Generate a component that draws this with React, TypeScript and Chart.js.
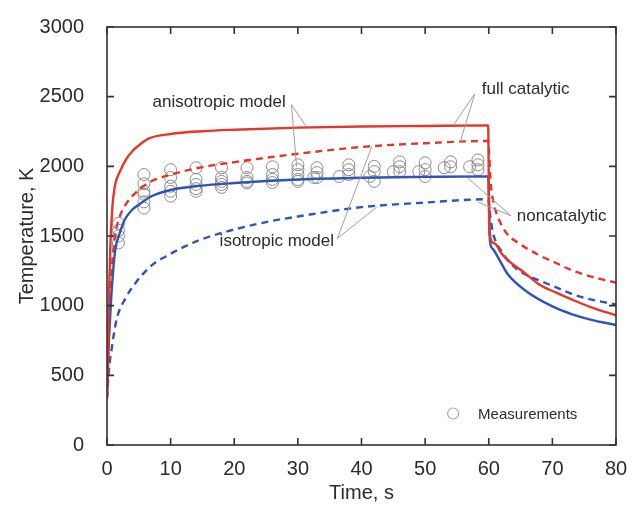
import React, { useEffect, useRef } from 'react';
import { Chart, registerables } from 'chart.js';

Chart.register(...registerables);

// ---- Data (time in s, temperature in K) ----
const anisoFullTime = [0, 0.25, 0.5, 0.8, 1.2, 2, 3, 4, 5, 6.6, 10, 15, 20, 30, 40, 50, 59.9, 60.1, 60.9, 62, 63, 65.5, 68, 70.5, 73, 76, 80];
const anisoFullTemp = [350, 950, 1400, 1680, 1850, 1960, 2050, 2110, 2150, 2200, 2232, 2252, 2263, 2278, 2286, 2290, 2294, 1520, 1447, 1375, 1327, 1240, 1150, 1095, 1045, 990, 931];

const anisoNonTime = [0, 0.25, 0.5, 0.75, 1.3, 2, 2.7, 4, 5, 7, 10, 14.5, 20, 30, 40, 50, 59.9, 60.2, 60.6, 61.3, 63, 66, 70, 73, 76, 80];
const anisoNonTemp = [350, 700, 920, 1120, 1400, 1520, 1610, 1690, 1725, 1785, 1830, 1860, 1880, 1905, 1918, 1924, 1928, 1460, 1410, 1360, 1225, 1100, 995, 940, 900, 861];

const isoFullTime = [0, 0.3, 0.6, 1, 1.5, 2, 3, 4.5, 6.6, 10, 14.5, 20, 30, 40, 50, 59.9, 60.3, 60.8, 61.5, 62.8, 65, 68, 70.4, 73, 76, 80];
const isoFullTemp = [350, 800, 1150, 1400, 1560, 1640, 1730, 1810, 1884, 1940, 1990, 2030, 2090, 2139, 2166, 2182, 1880, 1730, 1630, 1520, 1440, 1360, 1310, 1255, 1210, 1165];

const isoNonTime = [0, 0.3, 0.7, 1.5, 3, 4.6, 5.5, 7.3, 9.3, 12, 14.5, 17.6, 25, 30, 40, 50, 59.9, 60.3, 60.8, 62, 63.5, 65.7, 68, 70.4, 73, 76, 80];
const isoNonTemp = [330, 540, 680, 900, 1060, 1170, 1220, 1300, 1355, 1420, 1470, 1517, 1600, 1640, 1707, 1740, 1764, 1620, 1500, 1390, 1300, 1225, 1180, 1135, 1085, 1045, 1009];

const measTime = [
  1.8, 1.8, 1.8, 1.8,
  5.8, 5.8, 5.8, 5.8, 5.8, 5.8,
  10, 10, 10, 10, 10,
  14, 14, 14, 14, 14,
  18, 18, 18, 18, 18,
  22, 22, 22, 22,
  26, 26, 26, 26,
  30, 30, 30, 30, 30,
  32.5, 33, 33, 33,
  36.5, 38, 38, 38,
  41.3, 42, 42, 42,
  45, 46, 46, 46,
  49, 50, 50, 50,
  53, 54, 54,
  57, 58.3, 58.3, 58.3,
];
const measTemp = [
  1590, 1540, 1500, 1450,
  1941, 1875, 1820, 1800, 1745, 1700,
  1976, 1920, 1857, 1821, 1786,
  1990, 1906, 1870, 1840, 1821,
  1990, 1920, 1892, 1870, 1849,
  1990, 1920, 1892, 1880,
  1997, 1941, 1906, 1884,
  2011, 1976, 1941, 1906, 1892,
  1920, 1990, 1955, 1920,
  1927, 2011, 1976, 1941,
  1927, 2000, 1962, 1892,
  1962, 2032, 1997, 1962,
  1962, 2025, 1976, 1927,
  1990, 2032, 1997,
  1997, 2046, 2011, 1976,
];

const xMin = 0, xMax = 80, xStep = 10;
const yMin = 0, yMax = 3000, yStep = 500;

// Annotation labels, anchored in data space
const noteTexts = ['anisotropic model', 'full catalytic', 'noncatalytic', 'isotropic model'];
const noteAt: [number, number][] = [[7.15, 2456], [58.9, 2555], [64.4, 1638], [17.7, 1461]];
const leaderFrom: [number, number][] = [[29.0, 2442], [57.8, 2520], [63.5, 1645], [36.2, 1482]];
const leaderTo: [number, number][][] = [
  [[31.4, 2280], [29.8, 1998]],
  [[54.4, 2294], [55.5, 2174]],
  [[56.6, 1920], [58.3, 1744]],
  [[41.6, 2139], [42.4, 1708]],
];
const legendLabel = 'Measurements';
const legendAt: [number, number] = [54.4, 226];

const RED = '#e3362d';
const BLUE = '#3154b4';
const GRAY = '#8c8c8c';
const TEXT = '#2b2b2b';
const FONT = "'Liberation Sans', Arial, Helvetica, sans-serif";

const zip = (xs: number[], ys: number[]) => xs.map((x, i) => ({ x, y: ys[i] }));

const decor = {
  id: 'decor',
  beforeDraw(chart: any) {
    const { ctx, width, height } = chart;
    ctx.save();
    ctx.fillStyle = '#ffffff';
    ctx.fillRect(0, 0, width, height);
    ctx.restore();
  },
  afterDatasetsDraw(chart: any) {
    const { ctx, chartArea, scales } = chart;
    const { left, right, top, bottom } = chartArea;
    const xs = scales.x, ys = scales.y;
    ctx.save();
    // leader lines
    ctx.strokeStyle = '#a0a0a0';
    ctx.lineWidth = 1;
    leaderFrom.forEach((f, i) => {
      leaderTo[i].forEach((t) => {
        ctx.beginPath();
        ctx.moveTo(xs.getPixelForValue(f[0]), ys.getPixelForValue(f[1]));
        ctx.lineTo(xs.getPixelForValue(t[0]), ys.getPixelForValue(t[1]));
        ctx.stroke();
      });
    });
    // annotation texts
    ctx.fillStyle = TEXT;
    ctx.font = `17px ${FONT}`;
    ctx.textBaseline = 'middle';
    ctx.textAlign = 'left';
    noteTexts.forEach((t, i) => {
      ctx.fillText(t, xs.getPixelForValue(noteAt[i][0]), ys.getPixelForValue(noteAt[i][1]));
    });
    // legend
    const lx = xs.getPixelForValue(legendAt[0]);
    const ly = ys.getPixelForValue(legendAt[1]);
    ctx.strokeStyle = '#aaaaaa';
    ctx.lineWidth = 1.2;
    ctx.beginPath();
    ctx.arc(lx, ly, 5.5, 0, Math.PI * 2);
    ctx.stroke();
    ctx.font = `15px ${FONT}`;
    ctx.fillText(legendLabel, lx + 25, ly + 1);
    // frame
    ctx.strokeStyle = '#333333';
    ctx.lineWidth = 1.6;
    ctx.strokeRect(left, top, right - left, bottom - top);
    // inward ticks on all sides
    const tl = 7;
    ctx.beginPath();
    xs.ticks.forEach((t: any) => {
      const px = xs.getPixelForValue(t.value);
      ctx.moveTo(px, bottom); ctx.lineTo(px, bottom - tl);
      ctx.moveTo(px, top); ctx.lineTo(px, top + tl);
    });
    ys.ticks.forEach((t: any) => {
      const py = ys.getPixelForValue(t.value);
      ctx.moveTo(left, py); ctx.lineTo(left + tl, py);
      ctx.moveTo(right, py); ctx.lineTo(right - tl, py);
    });
    ctx.stroke();
    ctx.restore();
  },
};

export default function App() {
  const ref = useRef<HTMLCanvasElement | null>(null);
  useEffect(() => {
    if (!ref.current) return;
    Chart.defaults.font.family = FONT;
    const lineBase = {
      showLine: true,
      pointRadius: 0,
      borderWidth: 2.4,
      cubicInterpolationMode: 'monotone' as const,
      fill: false,
    };
    const chart = new Chart(ref.current, {
      type: 'scatter',
      data: {
        datasets: [
          { ...lineBase, label: 'anisotropic, full catalytic', data: zip(anisoFullTime, anisoFullTemp), borderColor: RED },
          { ...lineBase, label: 'anisotropic, noncatalytic', data: zip(anisoNonTime, anisoNonTemp), borderColor: BLUE },
          { ...lineBase, label: 'isotropic, full catalytic', data: zip(isoFullTime, isoFullTemp), borderColor: RED, borderDash: [7, 5] },
          { ...lineBase, label: 'isotropic, noncatalytic', data: zip(isoNonTime, isoNonTemp), borderColor: BLUE, borderDash: [7, 5] },
          {
            label: legendLabel,
            data: zip(measTime, measTemp),
            showLine: false,
            pointStyle: 'circle',
            pointRadius: 6,
            borderWidth: 1,
            borderColor: GRAY,
            backgroundColor: 'rgba(255,255,255,0)',
          },
        ],
      },
      options: {
        animation: false,
        responsive: true,
        maintainAspectRatio: false,
        layout: { padding: { left: 0, right: 26, top: 20, bottom: 0 } },
        plugins: { legend: { display: false }, tooltip: { enabled: false } },
        scales: {
          x: {
            type: 'linear',
            min: xMin,
            max: xMax,
            grid: { display: false },
            border: { display: false },
            ticks: { stepSize: xStep, padding: 4, color: TEXT, font: { size: 20 }, callback: (v: any) => String(v) },
            title: { display: true, text: 'Time, s', color: TEXT, font: { size: 20 }, padding: { top: 0, bottom: 1 } },
            afterFit: (s: any) => { s.height = 61; },
          },
          y: {
            type: 'linear',
            min: yMin,
            max: yMax,
            grid: { display: false },
            border: { display: false },
            ticks: { stepSize: yStep, padding: 15, color: TEXT, font: { size: 20 }, callback: (v: any) => String(v) },
            title: { display: true, text: 'Temperature, K', color: TEXT, font: { size: 20 }, padding: { top: 15, bottom: 0 } },
            afterFit: (s: any) => { s.width = 107; },
          },
        },
      },
      plugins: [decor],
    });
    return () => chart.destroy();
  }, []);
  return (
    <div style={{ position: 'absolute', left: 0, top: 0, width: 642, height: 506, background: '#fff' }}>
      <canvas ref={ref} />
    </div>
  );
}
